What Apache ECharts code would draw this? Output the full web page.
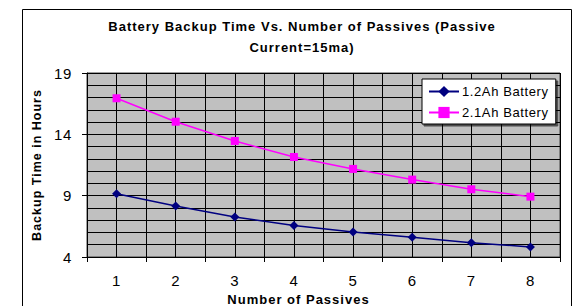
<!DOCTYPE html>
<html>
<head>
<meta charset="utf-8">
<title>Battery Backup Time</title>
<script src="https://cdn.jsdelivr.net/npm/echarts@6/dist/echarts.min.js"></script>
<style>
  html, body { margin: 0; padding: 0; background: #fff; }
  #chart { width: 575px; height: 306px; }
  /* the original is drawn with slightly spaced letters */
  #chart svg text { letter-spacing: 0.6px; }
  #chart svg text[style*="bold"] { letter-spacing: 1px; }
</style>
</head>
<body>
<div id="chart"></div>
<script>
var passives = ['1', '2', '3', '4', '5', '6', '7', '8'];
var battery12 = [9.16, 8.16, 7.26, 6.56, 6.04, 5.61, 5.17, 4.82];
var battery21 = [16.94, 15.03, 13.46, 12.15, 11.18, 10.31, 9.52, 8.92];

var font = "'Liberation Sans', Arial, sans-serif";
var myChart = echarts.init(document.getElementById('chart'), null, { renderer: 'svg' });

var option = {
    animation: false,
    textStyle: { fontFamily: font },
    title: {
        text: 'Battery Backup Time Vs. Number of Passives (Passive\nCurrent=15ma)',
        left: 297,
        top: 11,
        textAlign: 'center',
        textStyle: { fontSize: 13, fontWeight: 'bold', color: '#000', lineHeight: 21, fontFamily: font }
    },
    graphic: [{
        type: 'rect',
        shape: { x: 22.5, y: 9.5, width: 549, height: 400 },
        style: { fill: 'none', stroke: '#000', lineWidth: 1 },
        silent: true
    }],
    legend: {
        orient: 'vertical',
        left: 422,
        top: 79,
        padding: [6, 15, 5, 6],
        itemGap: 8,
        itemWidth: 30,
        itemHeight: 14,
        backgroundColor: '#fff',
        borderColor: '#000',
        borderWidth: 1,
        shadowColor: 'rgba(0,0,0,0.6)',
        shadowOffsetX: 2,
        shadowOffsetY: 2,
        shadowBlur: 0,
        textStyle: { fontSize: 13, color: '#000', fontFamily: font, padding: [0, 0, 0, -2] },
        data: ['1.2Ah Battery', '2.1Ah Battery']
    },
    grid: {
        left: 87,
        top: 73,
        right: 15,
        bottom: 49,
        outerBoundsMode: 'none',
        show: true,
        backgroundColor: '#c0c0c0',
        borderColor: '#404040',
        borderWidth: 1
    },
    xAxis: [{
        type: 'category',
        data: passives,
        boundaryGap: true,
        name: 'Number of Passives',
        nameLocation: 'middle',
        nameGap: 32,
        nameTextStyle: { fontSize: 13, fontWeight: 'bold', color: '#000', padding: [0, 50, 0, 0] },
        axisLine: { lineStyle: { color: '#000', width: 1 } },
        axisTick: { show: true, length: 5, lineStyle: { color: '#000' } },
        axisLabel: { fontSize: 15, color: '#000', margin: 16 },
        splitLine: { show: false }
    }, {
        type: 'value',
        min: 0.5,
        max: 8.5,
        interval: 0.5,
        position: 'bottom',
        axisLine: { show: false },
        axisTick: { show: false },
        axisLabel: { show: false },
        splitLine: { show: true, lineStyle: { color: '#000', width: 1 } }
    }],
    yAxis: {
        type: 'value',
        min: 4,
        max: 19,
        interval: 5,
        name: 'Backup Time in Hours',
        nameLocation: 'middle',
        nameGap: 44,
        nameTextStyle: { fontSize: 12.5, fontWeight: 'bold', color: '#000' },
        axisLine: { show: true, lineStyle: { color: '#000', width: 1 } },
        axisTick: { show: true, length: 5, lineStyle: { color: '#000' } },
        axisLabel: { fontSize: 15, color: '#000', margin: 15 },
        splitLine: { show: true, lineStyle: { color: '#000', width: 1 } },
        minorTick: { show: false, splitNumber: 5 },
        minorSplitLine: { show: true, lineStyle: { color: '#000', width: 1 } }
    },
    series: [{
        name: '1.2Ah Battery',
        type: 'line',
        xAxisIndex: 0,
        data: battery12,
        symbol: 'diamond',
        symbolSize: 9,
        itemStyle: { color: '#000080' },
        lineStyle: { color: '#000080', width: 1.5 }
    }, {
        name: '2.1Ah Battery',
        type: 'line',
        xAxisIndex: 0,
        data: battery21,
        symbol: 'rect',
        symbolSize: 8,
        itemStyle: { color: '#ff00ff' },
        lineStyle: { color: '#ff00ff', width: 1.5 }
    }]
};

myChart.setOption(option);
</script>
</body>
</html>
